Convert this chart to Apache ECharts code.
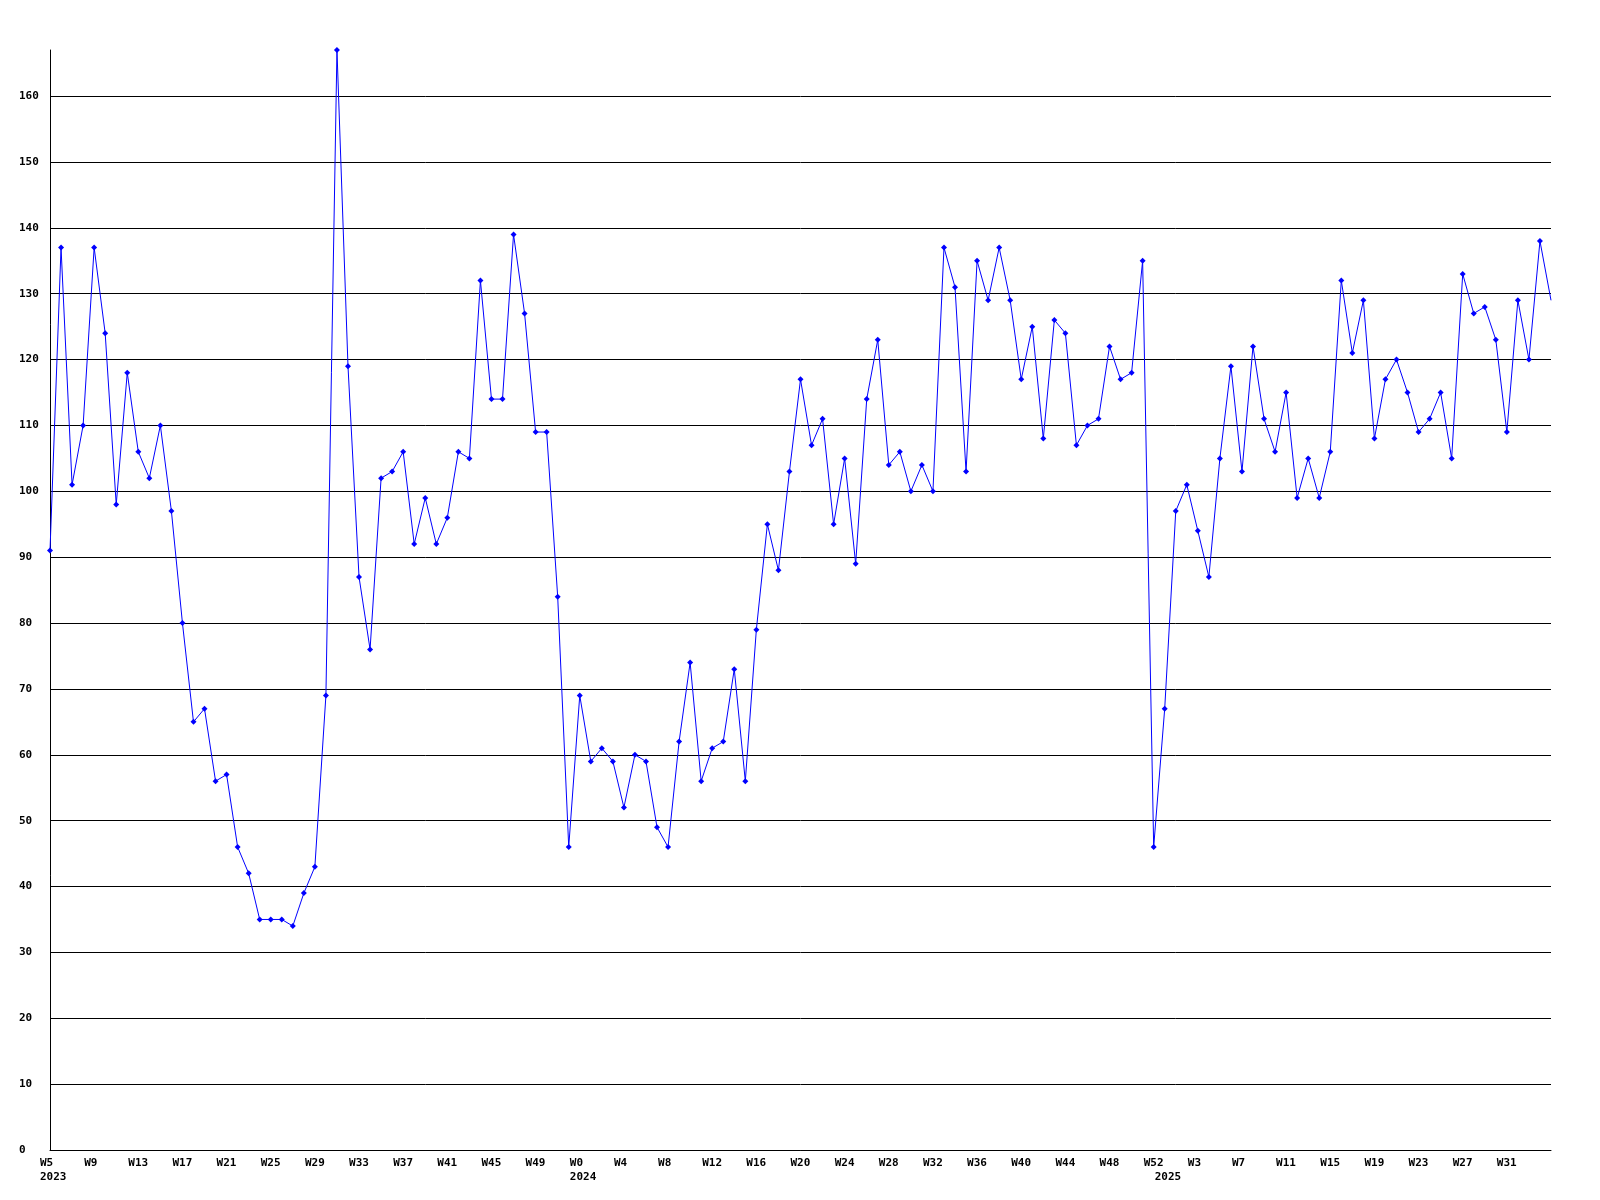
<!DOCTYPE html>
<html>
<head>
<meta charset="utf-8">
<script src="https://cdn.jsdelivr.net/npm/echarts@6/dist/echarts.min.js"></script>
<style>
  html, body { margin: 0; padding: 0; background: #fff; }
  #chart { width: 1600px; height: 1200px; }
</style>
</head>
<body>
<div id="chart"></div>
<script>
// ---- week labels per year ----
const weeks2023 = ['W5','W6','W7','W8','W9','W10','W11','W12','W13','W14','W15','W16','W17','W18','W19','W20','W21','W22','W23','W24','W25','W26','W27','W28','W29','W30','W31','W32','W33','W34','W35','W36','W37','W38','W39','W40','W41','W42','W43','W44','W45','W46','W47','W48','W49','W50','W51','W52'];
const weeks2024 = ['W0','W1','W2','W3','W4','W5','W6','W7','W8','W9','W10','W11','W12','W13','W14','W15','W16','W17','W18','W19','W20','W21','W22','W23','W24','W25','W26','W27','W28','W29','W30','W31','W32','W33','W34','W35','W36','W37','W38','W39','W40','W41','W42','W43','W44','W45','W46','W47','W48','W49','W50','W51','W52'];
const weeks2025 = ['W0','W1','W2','W3','W4','W5','W6','W7','W8','W9','W10','W11','W12','W13','W14','W15','W16','W17','W18','W19','W20','W21','W22','W23','W24','W25','W26','W27','W28','W29','W30','W31','W32','W33','W34','W35'];

// ---- values per year ----
const values2023 = [91,137,101,110,137,124,98,118,106,102,110,97,80,65,67,56,57,46,42,35,35,35,34,39,43,69,167,119,87,76,102,103,106,92,99,92,96,106,105,132,114,114,139,127,109,109,84,46];
const values2024 = [69,59,61,59,52,60,59,49,46,62,74,56,61,62,73,56,79,95,88,103,117,107,111,95,105,89,114,123,104,106,100,104,100,137,131,103,135,129,137,129,117,125,108,126,124,107,110,111,122,117,118,135,46];
const values2025 = [67,97,101,94,87,105,119,103,122,111,106,115,99,105,99,106,132,121,129,108,117,120,115,109,111,115,105,133,127,128,123,109,129,120,138,129];

const years = ['2023','2024','2025'];

// ---- y axis ticks ----
const yMin = 0, yMax = 167, yStep = 10;

// build category list + year start markers
const segments = [weeks2023, weeks2024, weeks2025];
const categories = [].concat(weeks2023, weeks2024, weeks2025);
const values = [].concat(values2023, values2024, values2025);
const yearAt = {};
let off = 0;
segments.forEach((seg, k) => { yearAt[off] = years[k]; off += seg.length; });
const lastIdx = categories.length - 1;

const chart = echarts.init(document.getElementById('chart'), null, { renderer: 'canvas' });
const font = 'DejaVu Sans Mono';
chart.setOption({
  animation: false,
  backgroundColor: '#ffffff',
  grid: { left: 50, right: 49, top: 50, bottom: 50, containLabel: false },
  xAxis: {
    type: 'category',
    data: categories,
    boundaryGap: false,
    axisLine: { show: true, lineStyle: { color: '#000', width: 1 } },
    axisTick: { show: false },
    splitLine: { show: false },
    axisLabel: {
      interval: (i) => i !== lastIdx && (i % 4 === 0 || yearAt[i] !== undefined),
      formatter: (v, i) => {
        let s = i % 4 === 0 ? v : '';
        if (yearAt[i] !== undefined) s += '\n' + yearAt[i];
        return s;
      },
      align: 'left',
      padding: [0, 0, 0, -10],
      margin: 6,
      color: '#000',
      fontFamily: font,
      fontWeight: 'bold',
      fontSize: 11,
      lineHeight: 14
    }
  },
  yAxis: {
    type: 'value',
    min: yMin,
    max: yMax,
    interval: yStep,
    axisLine: { show: true, lineStyle: { color: '#000', width: 1 } },
    axisTick: { show: false },
    splitLine: { show: true, showMaxLine: false, lineStyle: { color: '#000', width: 1 } },
    axisLabel: {
      showMaxLabel: false,
      align: 'left',
      margin: 31,
      color: '#000',
      fontFamily: font,
      fontWeight: 'bold',
      fontSize: 11
    }
  },
  series: [{
    type: 'line',
    data: values,
    symbol: 'diamond',
    symbolSize: (val, p) => (p.dataIndex === lastIdx ? 0 : 6),
    showAllSymbol: true,
    lineStyle: { color: '#0000ff', width: 1 },
    itemStyle: { color: '#0000ff' },
    emphasis: { disabled: true }
  }]
});
</script>
</body>
</html>
